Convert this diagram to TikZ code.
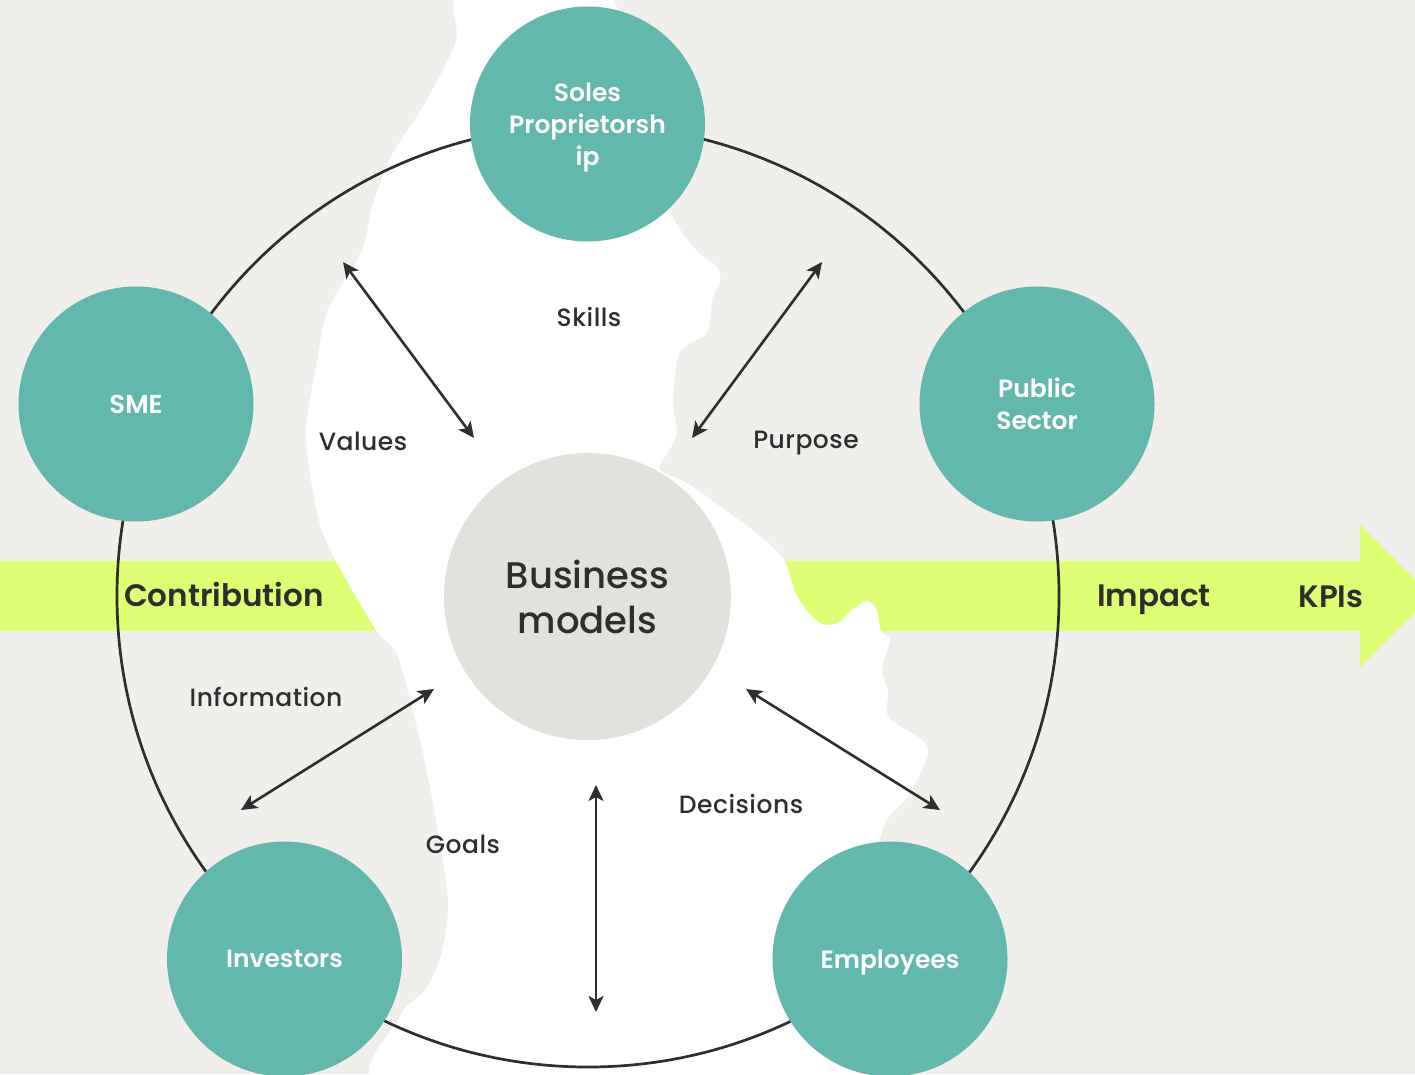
\documentclass[tikz,border=0pt]{standalone}
\usepackage{fontspec}
\setmainfont{Poppins}
\newfontfamily\pmed{Poppins Medium}[LetterSpace=2]
\newfontfamily\pmedcore{Poppins Medium}
\newfontfamily\psemi{Poppins SemiBold}
\usetikzlibrary{arrows.meta}
\definecolor{bg}{HTML}{F0EFEB}
\definecolor{lime}{HTML}{DEFF73}
\definecolor{tealc}{HTML}{63B8AD}
\definecolor{bmgrey}{HTML}{E2E1DC}
\definecolor{ink}{HTML}{2E2E2E}
\begin{document}
\begin{tikzpicture}[x=1pt,y=-1pt,
  entity/.style={circle,fill=tealc,minimum size=235pt,inner sep=0pt,text=white,
    font=\psemi\fontsize{25}{32}\selectfont,align=center,text depth=0pt},
  core/.style={circle,fill=bmgrey,minimum size=287pt,inner sep=0pt,text=ink,
    font=\pmedcore\fontsize{37}{45}\selectfont,align=center},
  rel/.style={text=ink,font=\pmed\fontsize{25}{29}\selectfont,inner sep=0pt},
  flow/.style={text=ink,font=\psemi\fontsize{31}{38}\selectfont,inner sep=0pt},
  link/.style={draw=ink,line width=2.6pt,
    {Stealth[length=16pt,width=15pt,inset=4pt]}-{Stealth[length=16pt,width=15pt,inset=4pt]}},
  ring/.style={draw=ink,line width=2.7pt}]
\useasboundingbox (0,0) rectangle (1415,1074);
\clip (0,0) rectangle (1415,1074);
\fill[bg] (0,0) rectangle (1415,1074);
% lime band arrow
\fill[lime] (-5,561) -- (1360,561) -- (1360,525) -- (1431,596) -- (1360,667)
  -- (1360,631) -- (-5,631) -- cycle;
% white blob
\fill[white] plot[smooth cycle, tension=0.5] coordinates {
 (463,-10) (603,-10) (635,90) (665,200) (693,247) (717,267) (720,282) (712,300)
 (707,333) (680,352) (673,400) (677,433) (668,452) (660,470) (690,485) (756,533)
 (784,560) (795,592) (808,612) (822,624) (838,623) (852,610) (866,601) (876,608)
 (881,631) (890,640) (882,669) (888,693) (889,718) (928,748) (907,797) (888,818)
 (878,850) (870,950) (850,1050) (823,1090) (395,1090) (400,1017) (425,990)
 (441,955) (448,900) (435,815) (420,740) (398,657) (376,630) (336,561) (318,517)
 (306,434) (317,362) (328,310) (362,250) (372,207) (392,155) (425,103) (456,41)};
% ring
\draw[ring] (588,596) circle[radius=471];
% arrow ends
\coordinate (v1) at (343,262); \coordinate (v2) at (474,438);
\coordinate (p1) at (822,262); \coordinate (p2) at (692,438);
\coordinate (i1) at (434,689); \coordinate (i2) at (241,810);
\coordinate (d1) at (746,689); \coordinate (d2) at (940,810);
\coordinate (g1) at (596,785); \coordinate (g2) at (596,1012);
\draw[link] (v1) -- (v2);
\draw[link] (p1) -- (p2);
\draw[link] (i1) -- (i2);
\draw[link] (d1) -- (d2);
\draw[link] (g1) -- (g2);
% nodes
\node[core] (bm) at (587.5,596.5) {Business\\models};
\node[entity] (soles) at (587.5,124) {Soles\\Proprietorsh\\ip};
\node[entity, font=\psemi\fontsize{26}{32}\selectfont] (sme) at (136,404) {SME};
\node[entity] (pub) at (1037,404) {Public\\Sector};
\node[entity] (inv) at (284.5,959) {Investors};
\node[entity] (emp) at (890,959) {Employees};
% relation labels
\node[rel] (skills) at (589,317) {Skills};
\node[rel] (values) at (363,441) {Values};
\node[rel] (purpose) at (806,443) {Purpose};
\node[rel] (info) at (266,697) {Information};
\node[rel] (dec) at (741,804) {Decisions};
\node[rel] (goals) at (463,844) {Goals};
% flow labels
\node[flow] (contrib) at (224,594) {Contribution};
\node[flow] (impact) at (1154,600) {Impact};
\node[flow] (kpis) at (1331,597) {KPIs};
\end{tikzpicture}
\end{document}
